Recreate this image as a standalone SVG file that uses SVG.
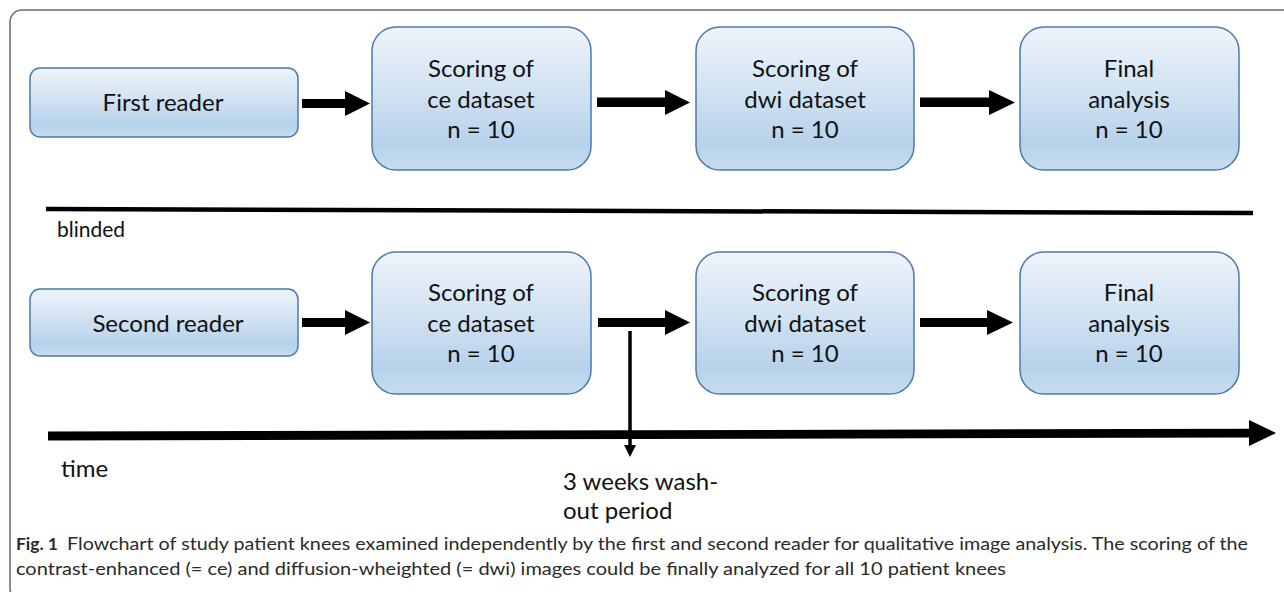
<svg xmlns="http://www.w3.org/2000/svg" width="1284" height="592" viewBox="0 0 1284 592">
  <style>
    .box { fill: url(#boxFill); stroke: #4a7aae; stroke-width: 1.5; }
    .lbl { font-family: Lato, "Open Sans", sans-serif; font-size: 24px; fill: #111; text-anchor: middle; }
    .note { font-family: Lato, "Open Sans", sans-serif; fill: #111; }
    .arrow { fill: #000; }
    .cap { font-family: Lato, "Open Sans", sans-serif; font-size: 17px; fill: #2a2a2a; }
  </style>
  <defs>
    <linearGradient id="boxFill" x1="0" y1="0" x2="0" y2="1">
      <stop offset="0" stop-color="#eef4fb"/>
      <stop offset="0.45" stop-color="#d2e2f2"/>
      <stop offset="0.82" stop-color="#b6d2eb"/>
      <stop offset="1" stop-color="#c8dcef"/>
    </linearGradient>
  </defs>

  <rect width="1284" height="592" fill="#fff"/>
  <!-- outer frame -->
  <rect x="10" y="10" width="1300" height="590" rx="12" fill="none" stroke="#6a6a6a" stroke-width="1.5"/>

  <!-- first reader row -->
  <g id="first-reader">
    <rect class="box" x="30" y="68" width="268" height="69" rx="10"/>
    <text class="lbl" x="163" y="111">First reader</text>
  </g>
  <g id="r1-scoring-ce">
    <rect class="box" x="372" y="27" width="219" height="143" rx="24"/>
    <text class="lbl" x="481" y="77">Scoring of</text>
    <text class="lbl" x="481" y="108">ce dataset</text>
    <text class="lbl" x="481" y="138">n = 10</text>
  </g>
  <g id="r1-scoring-dwi">
    <rect class="box" x="696" y="27" width="218" height="143" rx="24"/>
    <text class="lbl" x="805" y="77">Scoring of</text>
    <text class="lbl" x="805" y="108">dwi dataset</text>
    <text class="lbl" x="805" y="138">n = 10</text>
  </g>
  <g id="r1-final">
    <rect class="box" x="1020" y="27" width="219" height="143" rx="24"/>
    <text class="lbl" x="1129" y="77">Final</text>
    <text class="lbl" x="1129" y="108">analysis</text>
    <text class="lbl" x="1129" y="138">n = 10</text>
  </g>

  <!-- second reader row -->
  <g id="second-reader">
    <rect class="box" x="30" y="289" width="268" height="67" rx="10"/>
    <text class="lbl" x="168" y="332">Second reader</text>
  </g>
  <g id="r2-scoring-ce">
    <rect class="box" x="372" y="252" width="219" height="142" rx="24"/>
    <text class="lbl" x="481" y="301">Scoring of</text>
    <text class="lbl" x="481" y="332">ce dataset</text>
    <text class="lbl" x="481" y="362">n = 10</text>
  </g>
  <g id="r2-scoring-dwi">
    <rect class="box" x="696" y="252" width="218" height="142" rx="24"/>
    <text class="lbl" x="805" y="301">Scoring of</text>
    <text class="lbl" x="805" y="332">dwi dataset</text>
    <text class="lbl" x="805" y="362">n = 10</text>
  </g>
  <g id="r2-final">
    <rect class="box" x="1020" y="252" width="219" height="142" rx="24"/>
    <text class="lbl" x="1129" y="301">Final</text>
    <text class="lbl" x="1129" y="332">analysis</text>
    <text class="lbl" x="1129" y="362">n = 10</text>
  </g>

  <!-- separators and time axis -->
  <g id="blinded">
    <line x1="46" y1="209" x2="1253" y2="213" stroke="#000" stroke-width="4.5"/>
    <text class="note" x="57" y="237" font-size="21">blinded</text>
  </g>
  <g id="time">
    <polygon class="arrow" points="48,431.5 1249,428.8 1249,420 1276,433 1249,446 1249,437.5 48,440.5"/>
    <text class="note" x="61" y="477" font-size="24">time</text>
  </g>
  <g id="washout">
    <text class="note" x="563" y="490" font-size="24">3 weeks wash-</text>
    <text class="note" x="563" y="519" font-size="24">out period</text>
  </g>

  <!-- connectors -->
  <g id="connectors">
    <polygon class="arrow" points="302,99 345,99 345,91 370,103.5 345,116 345,108 302,108"/>
    <polygon class="arrow" points="597,97.5 665,97.5 665,90 690,102.5 665,115 665,107 597,107"/>
    <polygon class="arrow" points="920,97.5 989,97.5 989,90 1015,102.5 989,115 989,107 920,107"/>
    <polygon class="arrow" points="302,318 345,318 345,310 370,322.5 345,335 345,327 302,327"/>
    <polygon class="arrow" points="598,318 665,318 665,310 690,322.5 665,335 665,327 598,327"/>
    <polygon class="arrow" points="920,318 987,318 987,310 1013,322.5 987,335 987,327 920,327"/>
    <line x1="630" y1="331" x2="630" y2="446" stroke="#000" stroke-width="3.5"/>
    <polygon class="arrow" points="624,445 636,445 630,457"/>
  </g>

  <!-- caption -->
  <g id="caption">
    <text class="cap" x="16" y="550" font-weight="bold" font-size="18" fill="#111" textLength="42" lengthAdjust="spacingAndGlyphs">Fig. 1</text>
    <text class="cap" x="67" y="550" textLength="1181" lengthAdjust="spacingAndGlyphs">Flowchart of study patient knees examined independently by the first and second reader for qualitative image analysis. The scoring of the</text>
    <text class="cap" x="16" y="575" textLength="990" lengthAdjust="spacingAndGlyphs">contrast-enhanced (= ce) and diffusion-wheighted (= dwi) images could be finally analyzed for all 10 patient knees</text>
  </g>
</svg>
